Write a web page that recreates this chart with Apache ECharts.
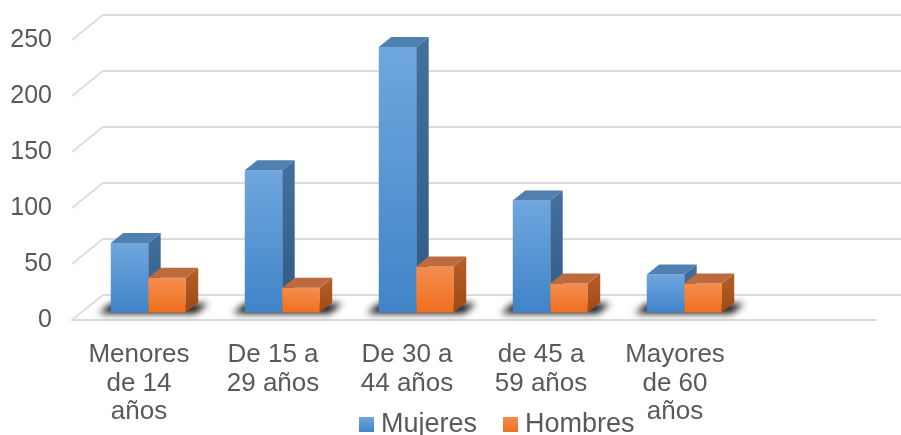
<!DOCTYPE html>
<html>
<head>
<meta charset="utf-8">
<script src="https://cdn.jsdelivr.net/npm/echarts@6/dist/echarts.min.js"></script>
<style>
  html, body { margin: 0; padding: 0; background: #fff; }
  #chart { width: 901px; height: 435px; }
</style>
</head>
<body>
<div id="chart"></div>
<script>
const categories = ['Menores\nde 14\naños', 'De 15 a\n29 años', 'De 30 a\n44 años', 'de 45 a\n59 años', 'Mayores\nde 60\naños', '']
const mujeres = [62, 127, 237, 100, 34]
const hombres = [31, 22, 41, 26, 26]
const yTicks = [0, 50, 100, 150, 200, 250]

// full depth of the 3d box (front plane -> back wall)
const DX = 31
const DY = -25
const textColor = '#595959'
const gridColor = '#dcdcdc'

const chart = echarts.init(document.getElementById('chart'))

function grad(c1, c2) {
    return { type: 'linear', x: 0, y: 0, x2: 0, y2: 1, colorStops: [{ offset: 0, color: c1 }, { offset: 1, color: c2 }] }
}

const faces = [
    { front: grad('#6fa7de', '#4084c8'), side: grad('#43709e', '#2f5a86'), top: '#5080b0' },
    { front: grad('#f58d4e', '#ee7020'), side: grad('#b65e28', '#9e4a14'), top: '#bd6a3e' }
]

function barItem(side) {
    return function (params, api) {
        const i = api.value(0)
        const v = api.value(1)
        const base = api.coord([i, 0])
        const top = api.coord([i, v])
        const band = api.size([1, 0])[0]
        const w = band * 0.28
        const dx = DX * 0.4, dy = DY * 0.4
        const x0 = base[0] + DX * 0.3 + (side === 0 ? -w : 0)
        const x1 = x0 + w
        const yb = base[1] + DY * 0.3
        const yt = top[1] + DY * 0.3
        const f = faces[side]
        return {
            type: 'group',
            children: [
                { type: 'rect', shape: { x: x0, y: yt, width: w, height: yb - yt }, style: { fill: f.front } },
                { type: 'polygon', shape: { points: [[x1, yt], [x1 + dx, yt + dy], [x1 + dx, yb + dy], [x1, yb]] }, style: { fill: f.side } },
                { type: 'polygon', shape: { points: [[x0, yt], [x1, yt], [x1 + dx, yt + dy], [x0 + dx, yt + dy]] }, style: { fill: f.top } }
            ]
        }
    }
}

const option = {
    animation: false,
    grid: { left: 72, right: 25, top: 40, bottom: 115 },
    legend: {
        left: 354, top: 406,
        itemWidth: 15, itemHeight: 15, itemGap: 26,
        icon: 'rect',
        textStyle: { color: textColor, fontSize: 27, fontFamily: 'Liberation Sans, Arial', padding: [0, 0, 0, 2] },
        data: ['Mujeres', 'Hombres']
    },
    xAxis: {
        type: 'category',
        data: categories,
        axisLine: { lineStyle: { color: gridColor, width: 2 } },
        axisTick: { show: false },
        axisLabel: { color: textColor, fontSize: 26, lineHeight: 28.5, fontFamily: 'Liberation Sans, Arial', margin: 21, interval: 0 }
    },
    yAxis: {
        type: 'value',
        min: 0, max: 250, interval: 50,
        splitLine: { show: false },
        axisLine: { show: false },
        axisTick: { show: false },
        axisLabel: { color: textColor, fontSize: 25, fontFamily: 'Liberation Sans, Arial', margin: 20 }
    },
    series: [
        {
            // back wall gridlines and the side diagonals
            type: 'custom',
            silent: true,
            data: yTicks.map(t => [0, t]),
            encode: { x: 0, y: 1 },
            renderItem(params, api) {
                const cs = params.coordSys
                const y = api.coord([0, api.value(1)])[1]
                const ls = { stroke: gridColor, lineWidth: 2 }
                return {
                    type: 'group',
                    children: [
                        { type: 'line', shape: { x1: cs.x, y1: y, x2: cs.x + DX, y2: y + DY }, style: ls },
                        { type: 'line', shape: { x1: cs.x + DX, y1: y + DY, x2: 901, y2: y + DY }, style: ls }
                    ]
                }
            }
        },
        {
            // soft floor shadows under each group (only the blurred shadow is on screen)
            type: 'custom',
            silent: true,
            data: mujeres.map((v, i) => [i, v]),
            encode: { x: 0, y: 1 },
            renderItem(params, api) {
                const base = api.coord([api.value(0), 0])
                const band = api.size([1, 0])[0]
                const w = band * 0.28
                const off = 3000
                const x0 = base[0] + DX * 0.3 - w - 12 - off
                const x1 = base[0] + DX * 0.3 + w + 10 - off
                const yb = base[1] + DY * 0.3 + 1
                const dx = DX * 0.4, dy = DY * 0.4
                return {
                    type: 'polygon',
                    shape: { points: [[x0, yb], [x1, yb], [x1 + dx, yb + dy], [x0 + dx, yb + dy]] },
                    style: { fill: '#000', shadowBlur: 7, shadowColor: 'rgba(15,15,15,1)', shadowOffsetX: off }
                }
            }
        },
        {
            name: 'Mujeres',
            type: 'custom',
            itemStyle: { color: grad('#6fa7de', '#4084c8') },
            data: mujeres.map((v, i) => [i, v]),
            encode: { x: 0, y: 1 },
            renderItem: barItem(0)
        },
        {
            name: 'Hombres',
            type: 'custom',
            itemStyle: { color: grad('#f58d4e', '#ee7020') },
            data: hombres.map((v, i) => [i, v]),
            encode: { x: 0, y: 1 },
            renderItem: barItem(1)
        }
    ]
}

chart.setOption(option)
</script>
</body>
</html>
